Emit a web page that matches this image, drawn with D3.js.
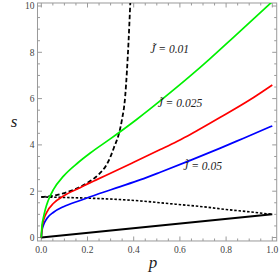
<!DOCTYPE html>
<html><head><meta charset="utf-8">
<script src="https://cdn.jsdelivr.net/npm/d3@7"></script>
<style>body{margin:0;background:#fff}svg{display:block}</style>
</head><body>
<script>
// ---- data ----
const greenP = [0, 0.003, 0.01, 0.017, 0.03, 0.053, 0.096, 0.16, 0.212, 0.3, 0.414, 0.529, 0.645, 0.732, 0.833, 1.0];
const greenS = [0, 0.5, 0.9, 1.2, 1.6, 2.08, 2.65, 3.24, 3.65, 4.27, 5.11, 6.02, 6.98, 7.74, 8.66, 10.19];
const redP = [0, 0.003, 0.01, 0.024, 0.053, 0.096, 0.168, 0.21, 0.24, 0.341, 0.4, 0.515, 0.587, 0.645, 0.681, 0.775, 0.905, 1.0];
const redS = [0, 0.4, 0.75, 1.1, 1.48, 1.79, 2.15, 2.36, 2.5, 2.97, 3.25, 3.8, 4.15, 4.45, 4.65, 5.19, 5.96, 6.59];
const blueP = [0, 0.003, 0.01, 0.024, 0.053, 0.096, 0.168, 0.24, 0.342, 0.43, 0.515, 0.645, 0.775, 0.876, 1.0];
const blueS = [0, 0.3, 0.55, 0.82, 1.09, 1.33, 1.6, 1.86, 2.2, 2.5, 2.82, 3.33, 3.86, 4.29, 4.82];
const dashP = [0, 0.05, 0.1, 0.15, 0.2, 0.25, 0.28, 0.3, 0.315, 0.335, 0.349, 0.363, 0.371, 0.378, 0.382, 0.386];
const dashS = [1.75, 1.8, 1.92, 2.1, 2.36, 2.74, 3.1, 3.5, 3.9, 4.45, 5.08, 6.08, 7.24, 8.53, 9.4, 10.3];
const dotP = [0, 0.17, 0.34, 0.43, 0.515, 0.645, 0.717, 0.8, 0.9, 1.0];
const dotS = [1.75, 1.71, 1.64, 1.58, 1.5, 1.38, 1.31, 1.21, 1.11, 1.0];
const lineP = [0, 1];
const lineS = [0, 1];
const xTicks = [0, 0.2, 0.4, 0.6, 0.8, 1.0];
const xTickLabels = ["0.0", "0.2", "0.4", "0.6", "0.8", "1.0"];
const yTicks = [0, 2, 4, 6, 8, 10];
const yTickLabels = ["0", "2", "4", "6", "8", "10"];
const curveLabels = ["J\u0303 = 0.01", "J\u0303 = 0.025", "J\u0303 = 0.05"];
const labelP = [0.556, 0.6, 0.698];
const labelS = [7.95, 5.62, 2.92];

// ---- layout ----
const W = 280, H = 280;
const x = d3.scaleLinear().domain([0, 1]).range([41.3, 272.3]);
const y = d3.scaleLinear().domain([0, 10]).range([237.5, 6]);
const fx0 = x(-0.0165), fx1 = x(1.0191), fy0 = y(10.13), fy1 = y(-0.15);

const svg = d3.select("body").append("svg").attr("width", W).attr("height", H);

svg.append("defs").append("clipPath").attr("id", "clip")
  .append("rect").attr("x", fx0).attr("y", fy0).attr("width", fx1 - fx0).attr("height", fy1 - fy0);

const frameColor = "#9a9a9a";
svg.append("rect").attr("x", fx0).attr("y", fy0).attr("width", fx1 - fx0).attr("height", fy1 - fy0)
  .attr("fill", "none").attr("stroke", frameColor).attr("stroke-width", 1);

// ticks
const xMinor = d3.range(0, 1.0001, 0.05).filter(v => Math.abs(v * 5 - Math.round(v * 5)) > 1e-6);
const yMinor = d3.range(0, 10.001, 0.5).filter(v => Math.abs(v / 2 - Math.round(v / 2)) > 1e-6);
const tg = svg.append("g").attr("stroke", frameColor).attr("stroke-width", 1);
xTicks.forEach(v => {
  tg.append("line").attr("x1", x(v)).attr("x2", x(v)).attr("y1", fy1).attr("y2", fy1 - 4.5);
  tg.append("line").attr("x1", x(v)).attr("x2", x(v)).attr("y1", fy0).attr("y2", fy0 + 4.5);
});
xMinor.forEach(v => {
  tg.append("line").attr("x1", x(v)).attr("x2", x(v)).attr("y1", fy1).attr("y2", fy1 - 2.5);
  tg.append("line").attr("x1", x(v)).attr("x2", x(v)).attr("y1", fy0).attr("y2", fy0 + 2.5);
});
yTicks.forEach(v => {
  tg.append("line").attr("y1", y(v)).attr("y2", y(v)).attr("x1", fx0).attr("x2", fx0 + 4.5);
  tg.append("line").attr("y1", y(v)).attr("y2", y(v)).attr("x1", fx1).attr("x2", fx1 - 4.5);
});
yMinor.forEach(v => {
  tg.append("line").attr("y1", y(v)).attr("y2", y(v)).attr("x1", fx0).attr("x2", fx0 + 2.5);
  tg.append("line").attr("y1", y(v)).attr("y2", y(v)).attr("x1", fx1).attr("x2", fx1 - 2.5);
});

// tick labels
const tickFont = "'Liberation Serif', 'DejaVu Serif', serif";
svg.append("g").selectAll("text").data(xTicks).join("text")
  .attr("x", d => x(d)).attr("y", 253)
  .attr("text-anchor", "middle").attr("font-family", tickFont).attr("font-size", 9.5).attr("fill", "#444")
  .text((d, i) => xTickLabels[i]);
svg.append("g").selectAll("text").data(yTicks).join("text")
  .attr("x", fx0 - 3).attr("y", d => y(d)).attr("dy", "0.35em")
  .attr("text-anchor", "end").attr("font-family", tickFont).attr("font-size", 9.5).attr("fill", "#444")
  .text((d, i) => yTickLabels[i]);

// axis labels
svg.append("text").attr("x", 153).attr("y", 268).attr("text-anchor", "middle")
  .attr("font-family", tickFont).attr("font-style", "italic").attr("font-size", 17).attr("fill", "#222").text("p");
svg.append("text").attr("x", 14).attr("y", 127).attr("text-anchor", "middle")
  .attr("font-family", tickFont).attr("font-style", "italic").attr("font-size", 17).attr("fill", "#222").text("s");

// curves
const line = d3.line().x(d => x(d[0])).y(d => y(d[1])).curve(d3.curveMonotoneX);
const zip = (a, b) => a.map((v, i) => [v, b[i]]);
const plot = svg.append("g").attr("clip-path", "url(#clip)").attr("fill", "none");
plot.append("path").attr("d", line(zip(lineP, lineS))).attr("stroke", "#000").attr("stroke-width", 2);
plot.append("path").attr("d", line(zip(dotP, dotS))).attr("stroke", "#000").attr("stroke-width", 1.6).attr("stroke-dasharray", "2.5,1.8");
plot.append("path").attr("d", line(zip(dashP, dashS))).attr("stroke", "#000").attr("stroke-width", 1.8).attr("stroke-dasharray", "4.5,2.5");
plot.append("path").attr("d", line(zip(blueP, blueS))).attr("stroke", "#0000ff").attr("stroke-width", 1.7);
plot.append("path").attr("d", line(zip(redP, redS))).attr("stroke", "#ff0000").attr("stroke-width", 1.7);
plot.append("path").attr("d", line(zip(greenP, greenS))).attr("stroke", "#00f000").attr("stroke-width", 1.7);

// curve labels
svg.append("g").selectAll("text").data(curveLabels).join("text")
  .attr("x", (d, i) => x(labelP[i])).attr("y", (d, i) => y(labelS[i]))
  .attr("text-anchor", "middle").attr("font-family", tickFont).attr("font-style", "italic")
  .attr("font-size", 11.5).attr("fill", "#222").text(d => d);
</script>
</body></html>
